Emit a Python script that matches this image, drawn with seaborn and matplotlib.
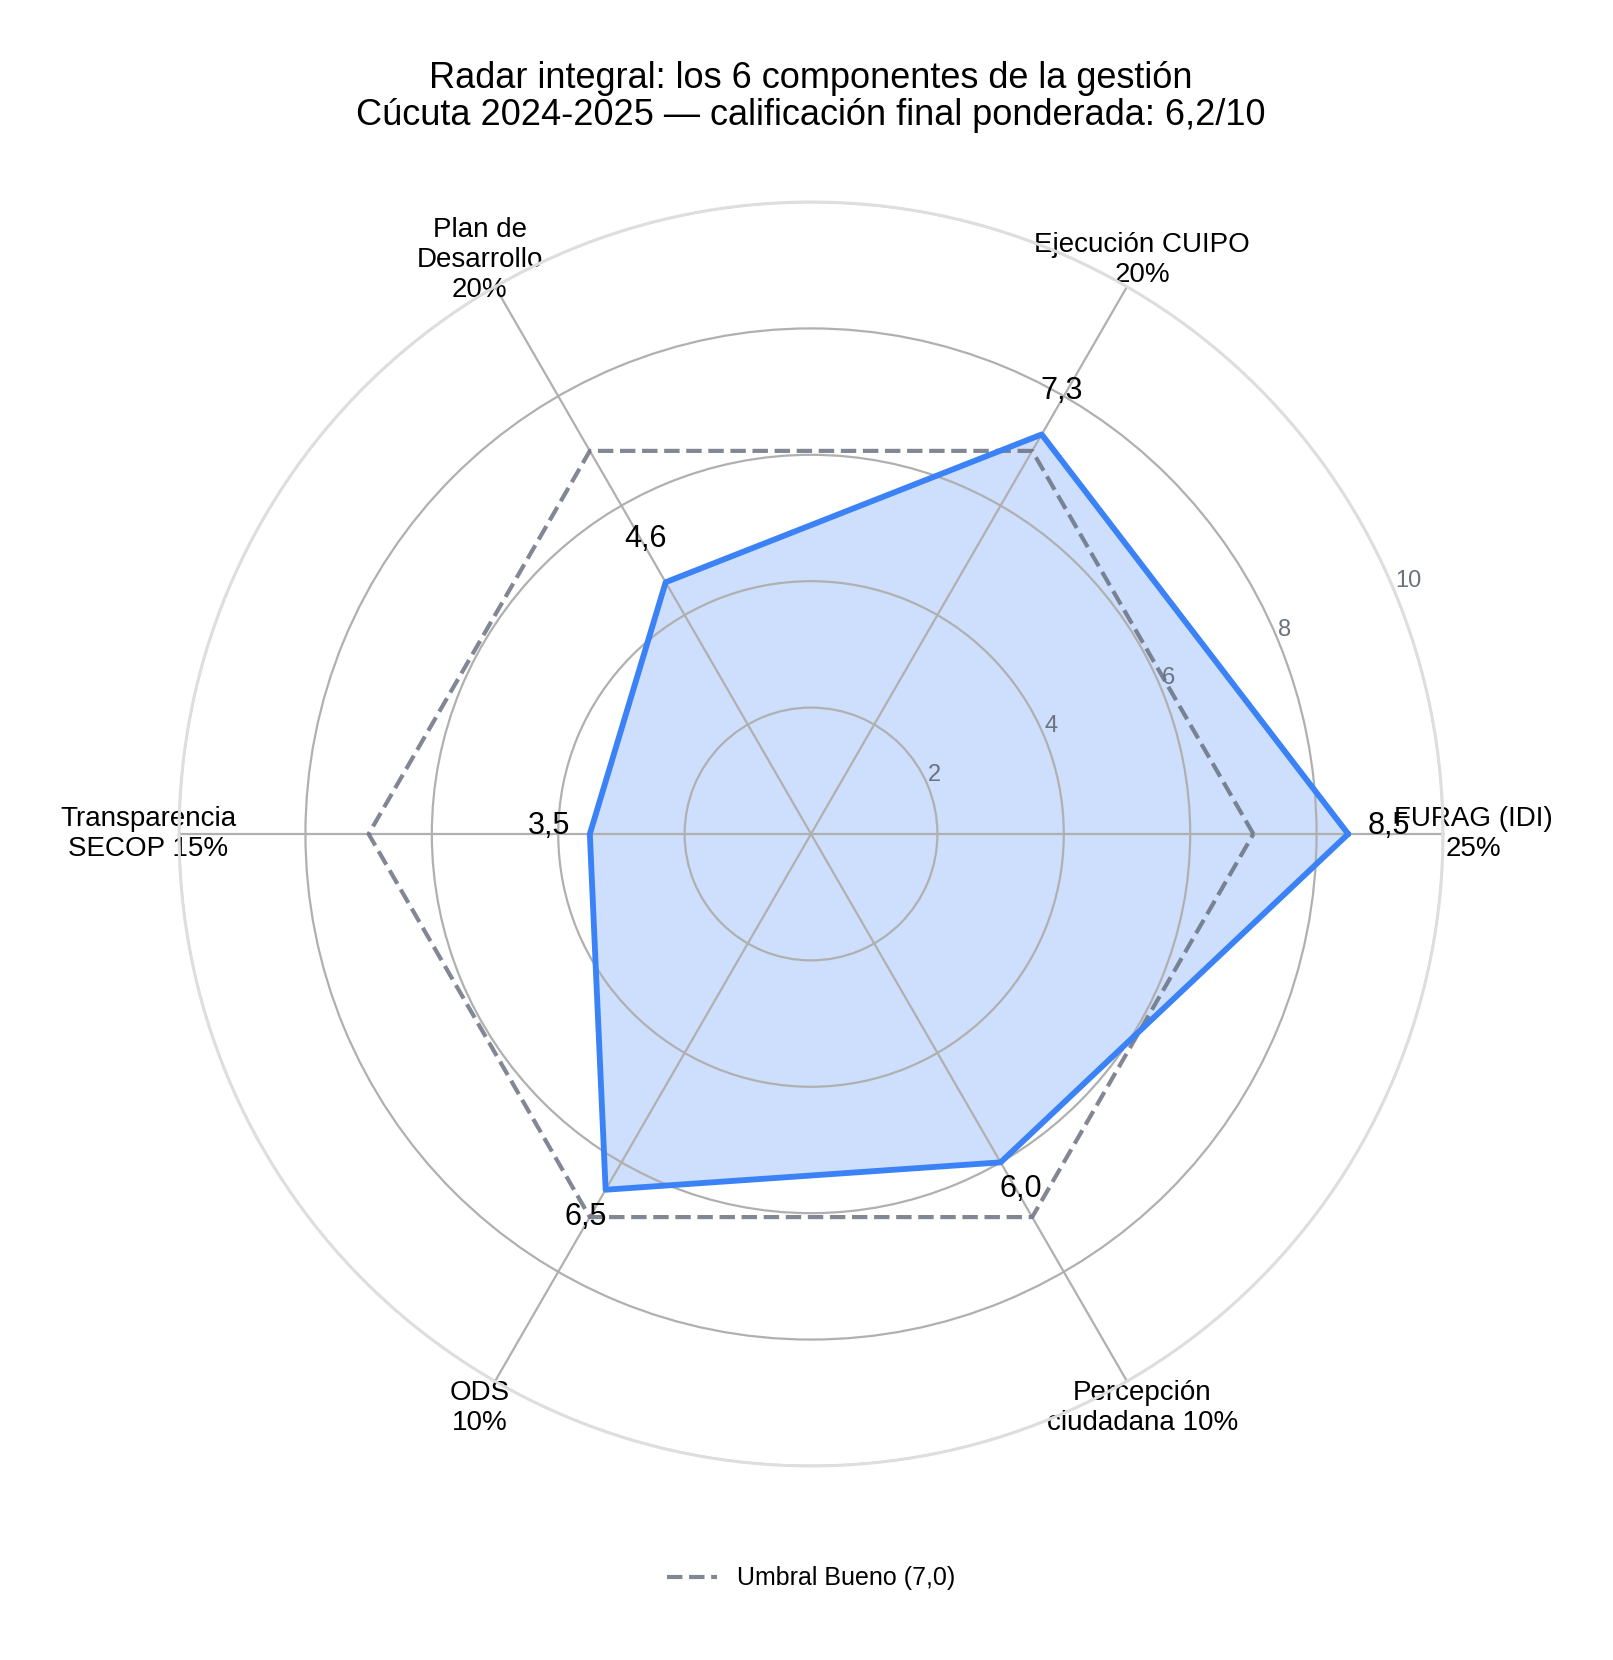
import numpy as np
import pandas as pd
import seaborn as sns
import matplotlib.pyplot as plt

# datos del radar
componentes = ['FURAG (IDI)\n25%', 'Ejecución CUIPO\n20%', 'Plan de\nDesarrollo\n20%',
               'Transparencia\nSECOP 15%', 'ODS\n10%', 'Percepción\nciudadana 10%']
puntajes = [8.5, 7.3, 4.6, 3.5, 6.5, 6.0]
umbral = 7.0
anillos = [2, 4, 6, 8, 10]
titulo = ('Radar integral: los 6 componentes de la gestión\n'
          'Cúcuta 2024-2025 — calificación final ponderada: 6,2/10')

sns.set_theme(style='whitegrid')
plt.rcParams['font.family'] = ['Liberation Sans', 'DejaVu Sans']
plt.rcParams['text.color'] = 'black'

n = len(componentes)
angulos = np.linspace(0, 2 * np.pi, n, endpoint=False)
df = pd.DataFrame({
    'angulo': np.append(angulos, 2 * np.pi),
    'puntaje': puntajes + puntajes[:1],
    'umbral': [umbral] * (n + 1),
})

fig = plt.figure(figsize=(1613 / 200, 1660 / 200), dpi=200)
ax = fig.add_axes([0.111, 0.1169, 0.7836, 0.7614], projection='polar')

azul = '#3b82f6'
gris = '#6b7280'

# umbral y serie principal
sns.lineplot(data=df, x='angulo', y='umbral', ax=ax, color=gris, alpha=0.85,
             linewidth=1.5, linestyle='--', label='Umbral Bueno (7,0)', zorder=3)
ax.fill(df['angulo'], df['puntaje'], color=azul, alpha=0.25, linewidth=0, zorder=2)
sns.lineplot(data=df, x='angulo', y='puntaje', ax=ax, color=azul, linewidth=2.1,
             legend=False, zorder=4)

for a, v in zip(angulos, puntajes):
    ax.text(a, v + 0.64, f'{v:.1f}'.replace('.', ','), ha='center',
            fontsize=11, color='black', zorder=5)

ax.set_xlabel('')
ax.set_ylabel('')
ax.set_xticks(angulos)
ax.set_xticklabels(componentes, fontsize=10, color='black')
ax.tick_params(axis='x', size=0, pad=4)
ax.set_ylim(0, 10)
ax.set_yticks(anillos)
ax.set_yticklabels([str(r) for r in anillos], fontsize=8.5, color=gris)
ax.set_rlabel_position(22.5)
ax.set_axisbelow(False)
ax.grid(True, color='#b0b0b0', linewidth=0.8)
# borde exterior claro por encima de la rejilla en r=10
ax.spines['polar'].set_color('#dedede')
ax.spines['polar'].set_linewidth(1.1)
ax.spines['polar'].set_zorder(2.7)

leg = ax.legend(loc='center', bbox_to_anchor=(0.5, -0.089), frameon=False, fontsize=9)
for t in leg.get_texts():
    t.set_color('black')

fig.text(0.5028, 1 - 97 / 1660, titulo, ha='center', va='center', fontsize=13,
         linespacing=1.08, color='black')

fig.savefig('out.png', dpi=200, facecolor='white')
